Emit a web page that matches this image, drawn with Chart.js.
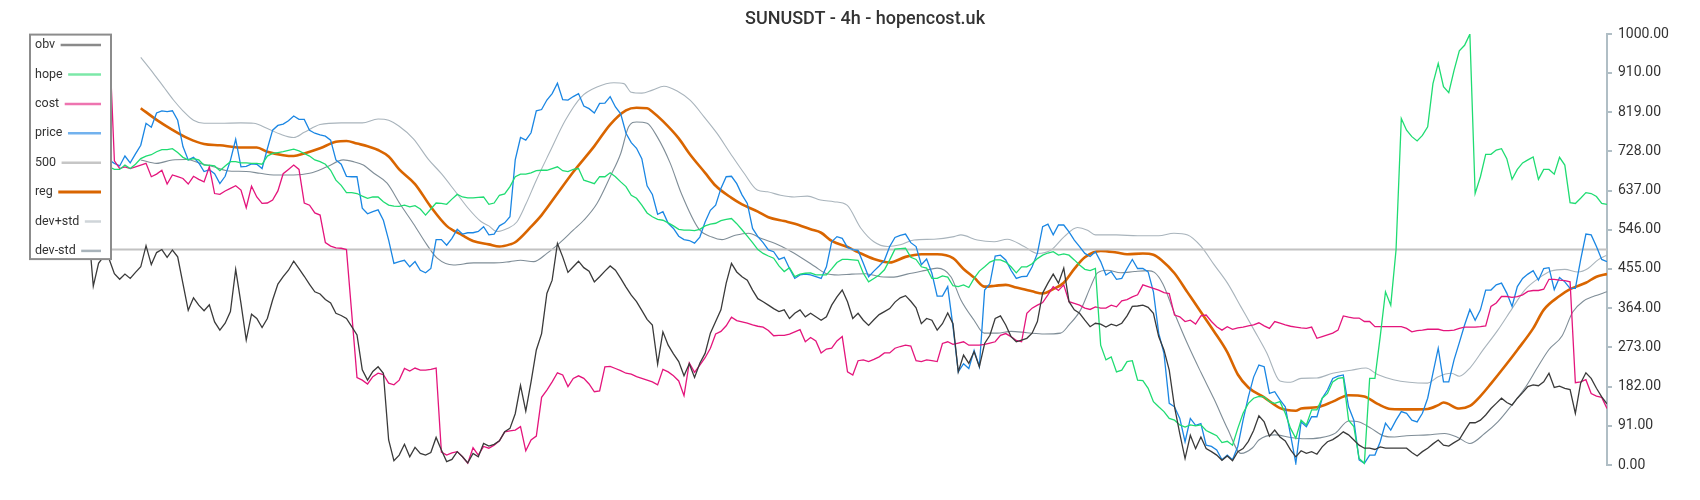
<!DOCTYPE html>
<html>
<head>
<meta charset="utf-8">
<title>SUNUSDT - 4h - hopencost.uk</title>
<script src="https://cdn.jsdelivr.net/npm/chart.js@4.4.1/dist/chart.umd.min.js"></script>
<style>
  html, body { margin: 0; padding: 0; background: #fff; }
  #wrap { width: 1700px; height: 500px; }
</style>
</head>
<body>
<div id="wrap"><canvas id="chart" width="1700" height="500"></canvas></div>
<script>
const chartTitle = "SUNUSDT - 4h - hopencost.uk";
const yTicks = [0, 91, 182, 273, 364, 455, 546, 637, 728, 819, 910, 1000];

// one value per 4h candle, 300 candles
const obv = [
  498, 505, 492, 500, 510, 503, 495, 500, 508, 520, 530, 560, 415, 468, 485, 478, 444, 431, 443, 433,
  447, 460, 509, 465, 493, 500, 482, 499, 483, 421, 359, 388, 371, 358, 372, 332, 313, 329, 356, 454,
  375, 290, 350, 340, 319, 340, 383, 420, 437, 452, 473, 456, 438, 419, 402, 397, 384, 376, 352, 347,
  340, 321, 302, 221, 197, 217, 228, 213, 58, 10, 23, 48, 19, 41, 27, 23, 29, 64, 35, 8,
  13, 31, 19, 5, 27, 19, 50, 44, 48, 56, 77, 85, 119, 185, 125, 193, 267, 305, 398, 429,
  514, 483, 447, 460, 473, 458, 450, 425, 437, 450, 462, 452, 433, 413, 394, 379, 359, 338, 325, 234,
  309, 278, 258, 240, 207, 235, 203, 236, 259, 306, 333, 360, 422, 468, 448, 437, 429, 406, 386, 379,
  371, 363, 356, 360, 340, 352, 360, 344, 352, 344, 336, 344, 371, 390, 406, 379, 340, 352, 336, 324,
  337, 349, 356, 363, 378, 388, 393, 380, 365, 328, 340, 336, 313, 328, 353, 328, 216, 255, 236, 263,
  228, 282, 301, 340, 346, 325, 298, 286, 290, 294, 306, 333, 399, 422, 443, 422, 457, 379, 360, 352,
  336, 321, 329, 327, 320, 327, 323, 329, 346, 368, 369, 371, 366, 352, 298, 267, 220, 135, 73, 15,
  69, 38, 65, 38, 31, 23, 11, 21, 10, 31, 38, 55, 80, 114, 100, 67, 81, 65, 56, 35,
  19, 33, 27, 31, 25, 42, 54, 59, 67, 77, 70, 58, 46, 39, 39, 36, 42, 39, 39, 39,
  39, 39, 29, 21, 31, 39, 49, 58, 46, 44, 52, 59, 79, 98, 98, 104, 116, 131, 143, 155,
  145, 139, 155, 168, 182, 186, 184, 193, 213, 180, 183, 178, 175, 120, 190, 214, 201, 178, 158, 142
];

const hope = [
  695, 700, 692, 698, 705, 700, 694, 690, 697, 702, 698, 693, 690, 695, 692, 692, 686, 686, 696, 688,
  698, 711, 717, 720, 727, 732, 732, 734, 725, 714, 708, 711, 708, 696, 696, 694, 683, 694, 704, 704,
  701, 701, 700, 700, 698, 717, 723, 725, 727, 730, 733, 729, 723, 717, 708, 704, 698, 684, 661, 649,
  632, 632, 630, 624, 619, 622, 622, 611, 603, 601, 600, 603, 599, 602, 594, 580, 594, 608, 607, 605,
  617, 628, 622, 620, 620, 621, 622, 605, 608, 626, 629, 646, 669, 675, 675, 678, 683, 684, 684, 688,
  692, 683, 681, 686, 688, 661, 657, 653, 669, 669, 678, 669, 657, 646, 626, 619, 603, 585, 576, 570,
  568, 562, 555, 547, 545, 545, 544, 547, 555, 559, 561, 567, 570, 572, 560, 546, 531, 516, 500, 491,
  485, 480, 462, 449, 458, 437, 443, 445, 446, 441, 441, 441, 455, 470, 477, 477, 476, 475, 445, 425,
  433, 441, 453, 476, 501, 502, 503, 482, 477, 460, 457, 433, 433, 439, 436, 416, 414, 418, 412, 433,
  450, 460, 471, 476, 476, 471, 460, 446, 460, 460, 467, 479, 487, 492, 495, 487, 490, 487, 476, 464,
  454, 451, 456, 278, 244, 251, 216, 220, 240, 242, 197, 196, 178, 147, 135, 124, 108, 104, 93, 88,
  93, 91, 93, 80, 74, 68, 52, 55, 46, 85, 120, 143, 155, 159, 158, 147, 143, 147, 120, 85,
  62, 104, 93, 128, 128, 155, 166, 193, 201, 203, 104, 89, 15, 4, 201, 201, 298, 402, 371, 499,
  804, 777, 762, 752, 765, 785, 885, 932, 878, 864, 916, 961, 974, 1000, 630, 669, 721, 721, 731, 734,
  711, 663, 686, 701, 708, 715, 663, 686, 686, 675, 714, 696, 609, 607, 619, 632, 630, 623, 607, 605
];

const cost = [
  1000, 1000, 1000, 1000, 1000, 1000, 1000, 1000, 1000, 1000, 1000, 1000, 1000, 1000, 1000, 1000, 706, 688, 692, 688,
  692, 696, 700, 669, 675, 684, 652, 673, 669, 665, 652, 670, 663, 657, 692, 630, 628, 636, 642, 648,
  638, 597, 647, 622, 607, 608, 615, 636, 676, 686, 696, 686, 608, 603, 585, 580, 516, 508, 504, 503,
  500, 352, 203, 197, 188, 205, 213, 210, 190, 186, 197, 224, 218, 225, 220, 220, 222, 225, 30, 23,
  28, 31, 19, 4, 40, 23, 43, 39, 46, 56, 77, 79, 81, 89, 33, 58, 67, 157, 174, 193,
  214, 209, 182, 201, 207, 201, 188, 170, 172, 228, 229, 224, 219, 213, 211, 205, 201, 197, 193, 186,
  222, 216, 207, 195, 161, 237, 215, 232, 249, 271, 304, 310, 323, 343, 335, 332, 329, 325, 322, 320,
  312, 300, 301, 301, 304, 309, 314, 286, 296, 288, 260, 269, 271, 288, 298, 216, 209, 242, 244, 240,
  245, 251, 260, 260, 271, 275, 278, 276, 242, 240, 244, 242, 240, 282, 286, 280, 283, 286, 278, 278,
  278, 280, 283, 286, 301, 305, 298, 289, 286, 352, 364, 371, 377, 395, 414, 405, 418, 379, 375, 371,
  364, 361, 367, 364, 364, 371, 367, 381, 384, 390, 395, 418, 414, 410, 406, 400, 398, 348, 344, 333,
  336, 327, 346, 348, 333, 321, 313, 321, 315, 318, 320, 323, 325, 330, 323, 317, 333, 329, 325, 322,
  320, 318, 317, 320, 294, 298, 302, 306, 313, 346, 343, 341, 341, 333, 333, 321, 321, 321, 321, 321,
  321, 317, 309, 312, 313, 315, 315, 315, 312, 312, 313, 317, 320, 320, 320, 321, 323, 368, 376, 391,
  391, 389, 391, 395, 403, 405, 405, 408, 431, 431, 429, 428, 425, 191, 193, 198, 166, 160, 157, 131
];

const price = [
  690, 702, 695, 710, 700, 688, 705, 712, 698, 690, 703, 715, 706, 695, 700, 708, 700, 694, 717, 701,
  722, 742, 793, 784, 817, 822, 820, 822, 800, 739, 708, 714, 701, 681, 685, 676, 653, 670, 707, 756,
  692, 693, 699, 698, 688, 734, 777, 788, 791, 799, 810, 802, 802, 777, 770, 766, 763, 754, 708, 698,
  670, 669, 669, 596, 583, 588, 592, 568, 522, 468, 472, 475, 460, 472, 452, 446, 456, 523, 523, 510,
  526, 547, 536, 539, 539, 542, 553, 534, 536, 555, 562, 576, 708, 760, 754, 771, 822, 825, 847, 862,
  886, 848, 847, 855, 862, 833, 827, 817, 839, 840, 855, 831, 815, 770, 748, 735, 711, 648, 628, 582,
  588, 561, 549, 531, 523, 521, 515, 529, 564, 591, 603, 642, 669, 670, 653, 627, 607, 549, 530, 516,
  499, 495, 477, 482, 456, 433, 441, 443, 441, 437, 433, 460, 518, 530, 526, 505, 500, 498, 468, 437,
  450, 462, 475, 507, 528, 533, 536, 516, 507, 465, 478, 445, 392, 392, 414, 321, 216, 235, 224, 266,
  228, 406, 421, 485, 487, 476, 452, 433, 437, 438, 460, 491, 553, 559, 534, 557, 557, 541, 522, 507,
  491, 484, 495, 472, 441, 449, 431, 433, 456, 477, 456, 456, 448, 402, 306, 259, 143, 135, 108, 54,
  108, 92, 96, 46, 43, 35, 12, 23, 12, 43, 104, 158, 204, 232, 228, 166, 170, 151, 135, 70,
  4, 100, 89, 112, 112, 155, 174, 201, 206, 209, 135, 104, 12, 4, 23, 23, 54, 97, 81, 104,
  124, 120, 104, 100, 120, 155, 213, 271, 193, 193, 244, 284, 325, 361, 336, 360, 406, 406, 418, 422,
  399, 368, 414, 433, 443, 451, 429, 456, 458, 407, 435, 425, 410, 410, 476, 536, 534, 507, 477, 472
];

// reference level: [candle, value]
const level500 = [[0, 500], [299, 500]];

// rolling curves, read at [candle, value]
const reg = [
  [21, 828], [24, 801], [27, 778], [30, 758], [33, 745], [36, 742], [40, 737], [43, 737], [45, 727], [48, 719],
  [50, 717], [52, 723], [55, 735], [58, 750], [60, 752], [62, 746], [64, 740], [66, 731], [68, 716], [70, 686],
  [73, 652], [76, 599], [79, 555], [82, 533], [84, 520], [87, 512], [89, 507], [91, 512], [92, 517], [95, 553],
  [97, 580], [100, 630], [103, 680], [107, 740], [110, 790], [113, 823], [115, 829], [117, 828], [118, 820], [120, 798],
  [123, 758], [125, 723], [128, 678], [130, 648], [133, 620], [135, 605], [138, 588], [140, 575], [143, 566], [145, 560],
  [148, 547], [150, 539], [152, 520], [155, 506], [157, 494], [160, 478], [163, 470], [166, 483], [169, 489], [172, 489],
  [175, 480], [177, 455], [179, 435], [181, 414], [183, 416], [185, 418], [187, 412], [190, 403], [192, 398], [194, 408],
  [196, 423], [198, 455], [200, 482], [203, 497], [206, 493], [208, 489], [211, 491], [213, 488], [214.5, 476], [217, 445],
  [219.5, 400], [222, 355], [224.5, 310], [227, 262], [229, 210], [231, 180], [234, 157], [237, 132], [240, 126], [241, 131],
  [244, 134], [247, 147], [250, 162], [253, 159], [255.5, 142], [258, 130], [262, 129], [265, 130], [267, 139], [268, 145],
  [271, 131], [273, 137], [275, 160], [277, 189], [280, 235], [282, 267], [285, 317], [287, 360], [290, 392], [292, 408],
  [295, 423], [297, 437], [299, 443]
];

const devPlus = [
  [21, 946], [23.4, 909], [25.3, 878], [27.2, 847], [29, 822], [31, 800], [33, 793], [36, 793], [40, 794], [42.4, 793],
  [45, 781], [47.4, 768], [50, 760], [52, 772], [55, 790], [59, 794], [63, 794], [66, 803], [68, 800], [70, 786],
  [72.7, 757], [75.5, 710], [78, 676], [80.5, 637], [83, 597], [85.5, 565], [87, 555], [88.5, 542], [90.5, 549], [92.3, 564],
  [94, 605], [96, 661], [98.5, 725], [101.5, 800], [104.5, 854], [107.5, 877], [110.7, 887], [112.6, 885], [114, 865], [116, 863],
  [118, 870], [120.2, 879], [122.7, 868], [125.2, 846], [127.8, 808], [130.3, 769], [132.8, 723], [135.4, 677], [137.9, 638], [139.8, 634],
  [142.3, 626], [144.9, 622], [147.4, 624], [149.9, 615], [152.4, 611], [154.9, 603], [157.5, 550], [160, 518], [162.6, 507], [165, 511],
  [167.6, 522], [171.4, 524], [175.2, 530], [176.5, 534], [179.6, 522], [182.8, 518], [185.3, 524], [188.5, 507], [191, 491], [193.6, 499],
  [196.1, 530], [198.6, 551], [200.5, 545], [202, 534], [206, 534], [210, 532], [214, 532], [216.9, 538], [219.5, 534], [222, 508],
  [224.5, 465], [227.1, 421], [229.6, 367], [232.1, 313], [234.5, 260], [237, 195], [239, 192], [241, 201], [244, 202], [247, 213],
  [250.5, 220], [253.3, 225], [255.5, 210], [258.5, 198], [261.5, 192], [265, 190], [267, 205], [269.5, 213], [271, 206], [273, 225],
  [275.5, 267], [278.3, 313], [281, 363], [283.4, 406], [286, 433], [288.4, 450], [291, 454], [293.5, 448], [295.4, 456], [297.3, 476],
  [299, 487]
];

const devMinus = [
  [21, 708], [24, 700], [27, 708], [29.7, 709], [32.3, 700], [34.8, 692], [37.3, 683], [41, 681], [43.6, 677], [46.2, 673],
  [50, 673], [53, 677], [56.3, 692], [59.4, 708], [61.3, 704], [63.2, 696], [65.2, 677], [67.7, 654], [70.2, 605], [72.7, 560],
  [75.2, 512], [77.2, 480], [80.3, 464], [84.1, 469], [88, 469], [91, 472], [93, 475], [95.5, 472], [98, 491], [100.5, 516],
  [103, 545], [105, 568], [107.5, 607], [110, 669], [112, 723], [113.5, 785], [115, 796], [117, 793], [118.9, 762], [121.4, 700],
  [123.5, 630], [126.8, 548], [129.3, 529], [131.2, 523], [133.7, 533], [136.2, 538], [138.8, 525], [141.3, 514], [143.8, 499], [146.4, 480],
  [148.9, 460], [150.8, 445], [153.3, 441], [155.8, 443], [158.4, 444], [161.3, 437], [163.8, 436], [166.3, 443], [169.5, 451], [172, 457],
  [174.6, 437], [176.5, 383], [179, 336], [180.9, 306], [183.4, 306], [186, 310], [189, 307], [192.3, 304], [195.4, 306], [197, 325],
  [199.2, 360], [201.1, 414], [202.4, 446], [204.3, 452], [206.8, 446], [209.4, 449], [211.9, 451], [213.2, 447], [214.8, 420], [216.9, 355],
  [219.5, 280], [222, 215], [224.5, 153], [227.1, 83], [229.6, 27], [231.8, 40], [233, 58], [236, 70], [239, 64], [241.6, 61],
  [244.5, 63], [247.5, 74], [250, 102], [252, 100], [254.3, 85], [256.8, 67], [258.7, 65], [261, 68], [265, 70], [268.2, 73],
  [270.7, 64], [273, 50], [275.8, 73], [278.3, 100], [281, 140], [283.4, 178], [285.9, 228], [288, 268], [290.5, 300], [292.5, 355],
  [294.5, 380], [296.6, 392], [299, 402]
];

function series(values) {
  return values.map((v, i) => ({ x: i, y: v }));
}

function pairs(list) {
  return list.map(p => ({ x: p[0], y: p[1] }));
}

// legend drawn as a boxed list in the top left corner of the plot
const boxLegend = {
  id: 'boxLegend',
  afterDraw(chart) {
    const ctx = chart.ctx;
    const left = chart.chartArea.left;
    const top = chart.chartArea.top;
    ctx.save();
    ctx.fillStyle = '#ffffff';
    ctx.fillRect(left, top, 81, 225);
    ctx.strokeStyle = '#8c8c8c';
    ctx.lineWidth = 2;
    ctx.strokeRect(left, top + 0.5, 81, 224.5);
    ctx.font = '12.5px Roboto';
    ctx.textBaseline = 'middle';
    ctx.textAlign = 'left';
    chart.data.datasets.forEach((ds, i) => {
      const cy = top + 11 + i * 29.4;
      ctx.fillStyle = '#333333';
      ctx.fillText(ds.label, left + 5, cy);
      const tw = ctx.measureText(ds.label).width;
      ctx.strokeStyle = ds.legendColor;
      ctx.lineWidth = ds.legendWidth;
      ctx.beginPath();
      ctx.moveTo(left + 5 + tw + 5.5, cy);
      ctx.lineTo(left + 71, cy);
      ctx.stroke();
    });
    ctx.restore();
  }
};

const ctx = document.getElementById('chart').getContext('2d');

new Chart(ctx, {
  type: 'line',
  data: {
    datasets: [
      { label: 'obv', data: series(obv), borderColor: '#3a3a3a', borderWidth: 1.3,
        legendColor: '#8a8a8a', legendWidth: 2.5 },
      { label: 'hope', data: series(hope), borderColor: '#1fdc72', borderWidth: 1.3,
        legendColor: '#7ce8a8', legendWidth: 2.5 },
      { label: 'cost', data: series(cost), borderColor: '#e4157c', borderWidth: 1.3,
        legendColor: '#ee74b0', legendWidth: 2.5 },
      { label: 'price', data: series(price), borderColor: '#1a86e3', borderWidth: 1.3,
        legendColor: '#72b2ee', legendWidth: 2.5 },
      { label: '500', data: pairs(level500), borderColor: '#c2c2c2', borderWidth: 2,
        legendColor: '#c6c6c6', legendWidth: 2.5 },
      { label: 'reg', data: pairs(reg), borderColor: '#d96500', borderWidth: 2.6,
        cubicInterpolationMode: 'monotone', legendColor: '#d96500', legendWidth: 3 },
      { label: 'dev+std', data: pairs(devPlus), borderColor: '#a9b4bc', borderWidth: 1.1,
        cubicInterpolationMode: 'monotone', legendColor: '#cfd5d9', legendWidth: 2.5 },
      { label: 'dev-std', data: pairs(devMinus), borderColor: '#7f8d97', borderWidth: 1.1,
        cubicInterpolationMode: 'monotone', legendColor: '#a8b3ba', legendWidth: 2.5 }
    ]
  },
  options: {
    responsive: false,
    animation: false,
    devicePixelRatio: 1,
    layout: { padding: { left: 30, right: 0, top: 0, bottom: 35 } },
    elements: {
      point: { radius: 0, hoverRadius: 0 },
      line: { tension: 0, fill: false }
    },
    plugins: {
      legend: { display: false },
      tooltip: { enabled: false },
      title: {
        display: true,
        text: chartTitle,
        color: '#333333',
        font: { family: 'Roboto', size: 18, weight: '500' },
        padding: { top: 9, bottom: 3.5 }
      }
    },
    scales: {
      x: { type: 'linear', min: 0, max: 299, display: false },
      y: {
        position: 'right',
        min: 0,
        max: 1000,
        afterBuildTicks: scale => { scale.ticks = yTicks.map(v => ({ value: v })); },
        afterFit: scale => { scale.width = 93; },
        ticks: {
          autoSkip: false,
          padding: 6,
          color: '#333333',
          font: { family: 'Roboto', size: 14 },
          callback: v => Number(v).toFixed(2)
        },
        grid: { drawOnChartArea: false, drawTicks: true, tickLength: 5, color: '#b0bec5', lineWidth: 2 },
        border: { display: true, color: '#b0bec5', width: 2 }
      }
    }
  },
  plugins: [boxLegend]
});
</script>
</body>
</html>
